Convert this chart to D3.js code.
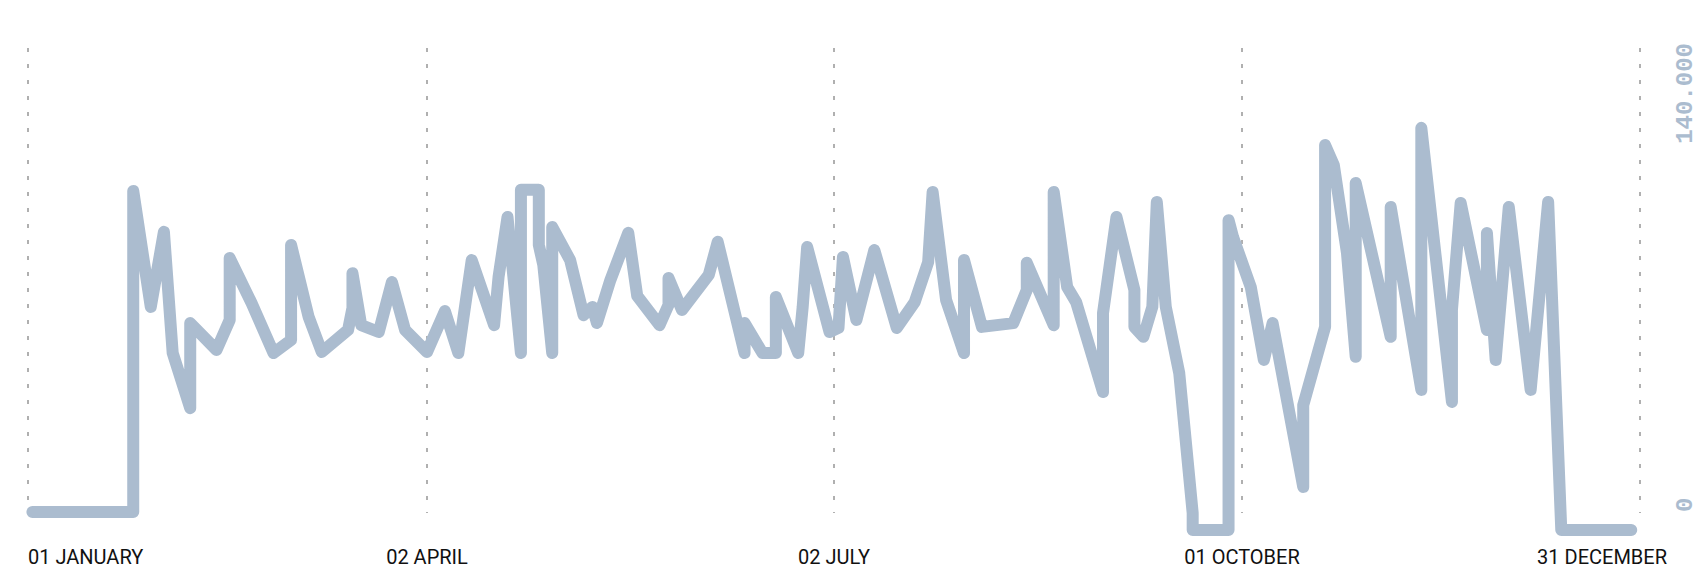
<!DOCTYPE html>
<html>
<head>
<meta charset="utf-8">
<script src="https://cdn.jsdelivr.net/npm/d3@7"></script>
<style>
  body { margin: 0; background: #fff; }
  svg { display: block; }
</style>
</head>
<body>
<div id="chart"></div>
<script>
// day of year (2021) for each reading, and the value read that day
var days = [2, 25, 25, 29, 32, 34, 38, 38, 44, 47, 47, 52, 57, 61, 61, 65, 68, 74, 75, 75,
  77, 81, 84, 87, 92, 96, 99, 102, 107, 108, 110, 113, 113, 117, 117, 118, 120, 120, 124, 127,
  129, 130, 133, 137, 139, 144, 146, 146, 149, 155, 157, 163, 163, 167, 170, 170, 175, 176, 177, 182,
  184, 185, 188, 192, 197, 201, 204, 205, 208, 212, 212, 216, 223, 226, 226, 232, 232, 235, 237, 243,
  243, 246, 250, 250, 252, 254, 255, 257, 260, 263, 263, 271, 271, 272, 276, 279, 281, 288, 288, 293,
  293, 295, 298, 300, 300, 308, 308, 315, 315, 322, 322, 324, 330, 330, 332, 335, 340, 344, 347, 363];

var values = [5200, 5200, 98500, 64800, 86600, 51400, 35400, 60100, 52300, 61000, 79000, 65900, 51400, 55200, 82800, 61900, 51700, 58100, 64500, 74600,
  59500, 57500, 72000, 58100, 51700, 63600, 51400, 78400, 59500, 73500, 90900, 51400, 98800, 98800, 82800, 77000, 51400, 88000, 78400, 62400,
  64800, 60100, 72600, 86300, 68000, 59500, 65400, 73200, 63900, 74100, 83700, 51400, 60100, 51400, 51400, 67700, 51400, 64800, 82200, 57500,
  58700, 79300, 61000, 81300, 58700, 66200, 77800, 98200, 66800, 51400, 78400, 59000, 60100, 69700, 77600, 59500, 98200, 70600, 66200, 40100,
  63000, 90900, 69700, 59000, 56100, 64800, 95300, 64800, 45600, 4900, 0, 0, 90000, 85100, 70600, 49400, 60100, 12500, 36300, 59000,
  111800, 106000, 80500, 50300, 100800, 56100, 93800, 40700, 116800, 37200, 63900, 95000, 58100, 86300, 49400, 93800, 40700, 95300, 0, 0];

// x axis ticks (start, quarters, end of the year)
var tickDates = [new Date(2021, 0, 1), new Date(2021, 3, 2), new Date(2021, 6, 2), new Date(2021, 9, 1), new Date(2021, 11, 31)];
var yTicks = [0, 140000];

var width = 1700, height = 583;
var lineColor = "#abbccf";

var data = days.map(function(d, i) {
  return { date: new Date(2021, 0, d), value: values[i] };
});

var svg = d3.select("#chart")
  .append("svg")
  .attr("width", width)
  .attr("height", height);

var x = d3.scaleTime()
  .domain(tickDates)
  .range([28, 427, 834, 1242, 1640]);

var y = d3.scaleLinear()
  .domain([0, 140000])
  .range([530, 48]);

// dotted vertical grid lines
svg.selectAll(".grid")
  .data(tickDates)
  .enter().append("line")
  .attr("class", "grid")
  .attr("x1", function(d) { return x(d); })
  .attr("x2", function(d) { return x(d); })
  .attr("y1", y(140000))
  .attr("y2", y(0) - 17)
  .style("stroke", "#b0b0b0")
  .style("stroke-width", 2)
  .style("stroke-dasharray", "4,12");

// date labels
var fmt = d3.timeFormat("%d %B");
svg.selectAll(".xlabel")
  .data(tickDates)
  .enter().append("text")
  .attr("class", "xlabel")
  .attr("x", function(d, i) { return i == tickDates.length - 1 ? 1667 : x(d); })
  .attr("y", 564)
  .attr("text-anchor", function(d, i) {
    if (i == 0) return "start";
    if (i == tickDates.length - 1) return "end";
    return "middle";
  })
  .style("font-family", "Roboto, 'Open Sans', sans-serif")
  .style("font-size", "20px")
  .style("fill", "#111")
  .text(function(d) { return fmt(d).toUpperCase(); });

// rotated value labels on the right
svg.selectAll(".ylabel")
  .data(yTicks)
  .enter().append("text")
  .attr("class", "ylabel")
  .attr("transform", function(d) {
    var ty = d == 0 ? y(0) - 18 : y(d) - 5;
    return "translate(1692," + ty + ") rotate(-90)";
  })
  .attr("text-anchor", function(d) { return d == 0 ? "start" : "end"; })
  .style("font-family", "'Liberation Mono', 'DejaVu Sans Mono', monospace")
  .style("font-weight", "bold")
  .style("font-size", "24px")
  .style("fill", lineColor)
  .text(function(d) { return d3.format(",")(d).replace(/,/g, "."); });

var line = d3.line()
  .x(function(d) { return x(d.date); })
  .y(function(d) { return y(d.value); });

svg.append("path")
  .datum(data)
  .attr("d", line)
  .style("fill", "none")
  .style("stroke", lineColor)
  .style("stroke-width", 12)
  .style("stroke-linejoin", "round")
  .style("stroke-linecap", "round");
</script>
</body>
</html>
